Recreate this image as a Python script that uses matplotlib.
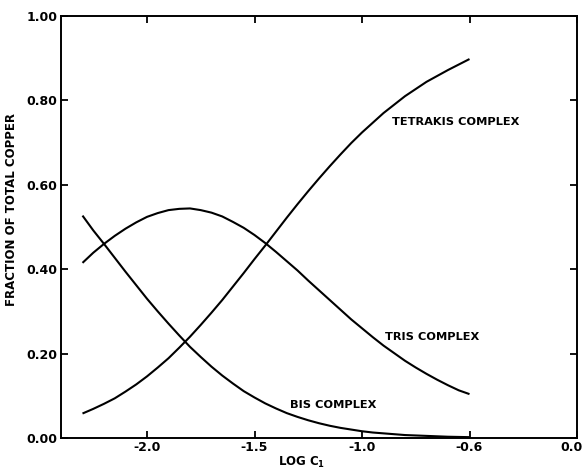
import matplotlib
matplotlib.use("Agg")
import matplotlib.pyplot as plt
from matplotlib.transforms import ScaledTranslation

log_c = [-2.30, -2.25, -2.20, -2.15, -2.10, -2.05, -2.00, -1.95, -1.90, -1.85,
         -1.80, -1.75, -1.70, -1.65, -1.60, -1.55, -1.50, -1.45, -1.40, -1.35,
         -1.30, -1.25, -1.20, -1.15, -1.10, -1.05, -1.00, -0.95, -0.90, -0.85,
         -0.80, -0.75, -0.70, -0.65, -0.60, -0.55, -0.50]
bis = [0.527, 0.492, 0.460, 0.427, 0.394, 0.362, 0.330, 0.300, 0.271, 0.243,
       0.216, 0.192, 0.169, 0.148, 0.129, 0.111, 0.096, 0.082, 0.070, 0.059,
       0.050, 0.042, 0.035, 0.029, 0.024, 0.020, 0.016, 0.013, 0.011, 0.009,
       0.007, 0.006, 0.005, 0.004, 0.003, 0.0025, 0.002]
tris = [0.415, 0.439, 0.460, 0.479, 0.496, 0.511, 0.524, 0.533, 0.540, 0.543,
        0.544, 0.540, 0.534, 0.525, 0.512, 0.498, 0.481, 0.462, 0.441, 0.419,
        0.397, 0.373, 0.350, 0.327, 0.304, 0.281, 0.260, 0.239, 0.219, 0.201,
        0.183, 0.167, 0.152, 0.138, 0.125, 0.113, 0.104]
tetrakis = [0.058, 0.069, 0.081, 0.094, 0.110, 0.127, 0.146, 0.167, 0.189, 0.214,
            0.240, 0.268, 0.297, 0.327, 0.359, 0.391, 0.424, 0.456, 0.489, 0.522,
            0.554, 0.585, 0.615, 0.644, 0.672, 0.699, 0.724, 0.747, 0.770, 0.790,
            0.810, 0.827, 0.844, 0.858, 0.872, 0.885, 0.898]

x_ticks = [-2.0, -1.5, -1.0, -0.5, 0.0]
x_tick_labels = ["-2.0", "-1.5", "-1.0", "-0.6", "0.0"]
y_ticks = [0.0, 0.2, 0.4, 0.6, 0.8, 1.0]
y_tick_labels = ["0.00", "0.20", "0.40", "0.60", "0.80", "1.00"]

plt.rcParams['font.family'] = ['DejaVu Sans']

fig = plt.figure(figsize=(5.83, 4.69), dpi=100)
ax = fig.add_axes([61/583, 1-438/469, (577-61)/583, (438-16)/469])

for series in (bis, tris, tetrakis):
    ax.plot(log_c, series, color='black', lw=1.5, solid_capstyle='butt',
            solid_joinstyle='round')

ax.set_xlim(-2.4, 0.0)
ax.set_ylim(0.0, 1.0)
ax.set_xticks(x_ticks)
ax.set_xticklabels(x_tick_labels)
ax.set_yticks(y_ticks)
ax.set_yticklabels(y_tick_labels)
for s in ax.spines.values():
    s.set_linewidth(1.4)
ax.tick_params(direction='in', length=5, width=1.3, top=True, right=True,
               labelsize=9, pad=2.5)
for lbl in ax.get_xticklabels() + ax.get_yticklabels():
    lbl.set_fontweight('bold')
last = ax.get_xticklabels()[-1]
last.set_transform(last.get_transform() +
                   ScaledTranslation(-4/72, 0, fig.dpi_scale_trans))

fig.text(12/583, 1-209/469, "FRACTION OF TOTAL COPPER", fontsize=8.5,
         fontweight='bold', rotation=90, ha='center', va='center')
fig.text(302/583, 1-462/469, r"LOG C$_\mathregular{1}$", fontsize=8.5,
         fontweight='bold', ha='center', va='center')

ax.text(-0.86, 0.749, "TETRAKIS COMPLEX", fontsize=8.2, fontweight='bold',
        ha='left', va='center')
ax.text(-0.893, 0.239, "TRIS COMPLEX", fontsize=8.2, fontweight='bold',
        ha='left', va='center')
ax.text(-1.335, 0.078, "BIS COMPLEX", fontsize=8.2, fontweight='bold',
        ha='left', va='center')

fig.savefig("out.png", dpi=100)
